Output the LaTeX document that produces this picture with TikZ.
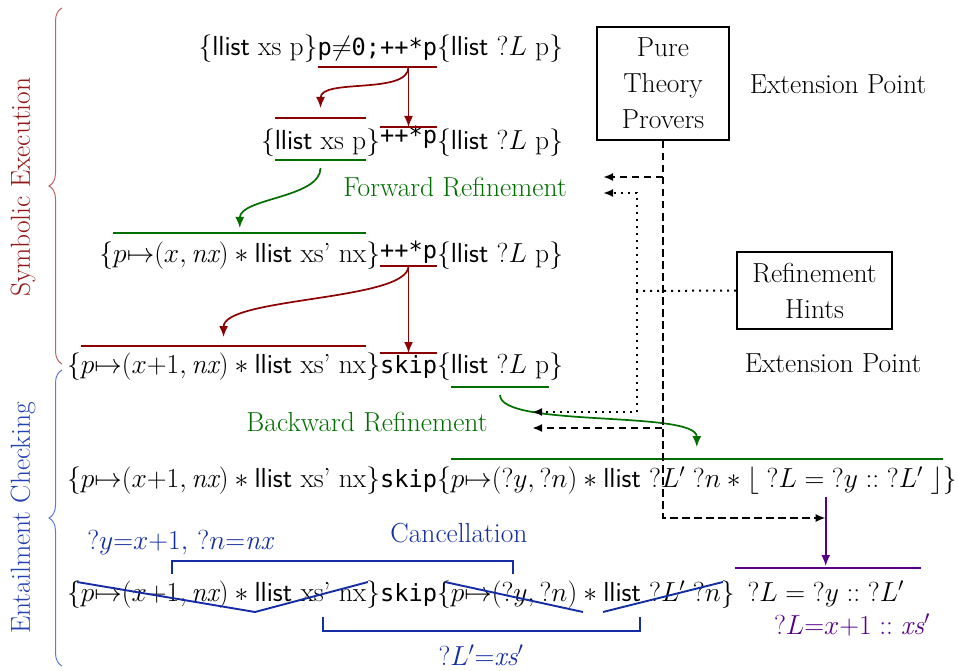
\documentclass[tikz,border=0pt]{standalone}
\usepackage{fix-cm}
\usepackage{fontspec}
\setmonofont{DejaVu Sans Mono}[Scale=0.86]
\usetikzlibrary{arrows.meta,decorations.pathreplacing}

\definecolor{symred}{RGB}{139,0,0}
\definecolor{symredlabel}{RGB}{145,25,25}
\definecolor{symredbrace}{RGB}{185,100,100}
\definecolor{refgreen}{RGB}{0,110,0}
\definecolor{entblue}{RGB}{20,45,165}
\definecolor{entbluelabel}{RGB}{35,65,175}
\definecolor{entbluebrace}{RGB}{100,120,210}
\definecolor{unifpurple}{RGB}{85,0,135}

\newcommand\lst{\textsf{llist}}

\begin{document}
\begin{tikzpicture}[x=1pt,y=-1pt,
  font=\fontsize{27.5}{33}\selectfont,
  seg/.style={inner sep=0pt,outer sep=0pt},
  segL/.style={seg,anchor=base east},
  segR/.style={seg,anchor=base west},
  barline/.style={line width=1.9pt},
  flow/.style={line width=1.7pt,-{Latex[length=11pt,width=9pt]}},
  probe/.style={line width=2pt,dash pattern=on 7.5pt off 4.5pt,-{Latex[length=10pt,width=8pt]}},
  hint/.style={line width=2pt,dash pattern=on 2pt off 5pt,-{Latex[length=10pt,width=8pt]}},
  plainhint/.style={line width=2pt,dash pattern=on 2pt off 5pt},
  toolbox/.style={draw,line width=2pt,align=center,inner sep=0pt,font=\fontsize{27.5}{36}\selectfont},
  strike/.style={entblue,line width=1.9pt},
  phasebrace/.style={decorate,decoration={brace,amplitude=13pt},line width=1pt},
]
\useasboundingbox (0,0) rectangle (958,671);

% ---------- row 1 ----------
\node[segL] (c1) at (437,56) {\texttt{p}$\neq$\texttt{0;++*p}};
\node[segL] (b1) at (c1.base west) {$\}$};
\node[segL] (p1) at (b1.base west) {\lst\ xs p};
\node[segL] (a1) at (p1.base west) {$\{$};
\node[segR] (d1) at (c1.base east) {$\{$};
\node[segR] (q1) at (d1.base east) {\lst\ ${?}L$ p};
\node[segR] (e1) at (q1.base east) {$\}$};

% ---------- row 2 ----------
\node[segL] (c2) at (437,150) {\raisebox{6pt}{\texttt{++*p}}};
\node[segL] (b2) at (c2.base west) {$\}$};
\node[segL] (p2) at (b2.base west) {\lst\ xs p};
\node[segL] (a2) at (p2.base west) {$\{$};
\node[segR] (d2) at (c2.base east) {$\{$};
\node[segR] (q2) at (d2.base east) {\lst\ ${?}L$ p};
\node[segR] (e2) at (q2.base east) {$\}$};

% ---------- row 3 ----------
\node[segL] (c3) at (437,262) {\raisebox{4pt}{\texttt{++*p}}};
\node[segL] (b3) at (c3.base west) {$\}$};
\node[segL] (p3) at (b3.base west) {$p{\mapsto}(x,\mathit{nx})\ast{}$\lst\ xs’ nx};
\node[segL] (a3) at (p3.base west) {$\{$};
\node[segR] (d3) at (c3.base east) {$\{$};
\node[segR] (q3) at (d3.base east) {\lst\ ${?}L$ p};
\node[segR] (e3) at (q3.base east) {$\}$};

% ---------- row 4 ----------
\node[segL] (c4) at (437,373) {\texttt{skip}};
\node[segL] (b4) at (c4.base west) {$\}$};
\node[segL] (p4) at (b4.base west) {$p{\mapsto}(x{+}1,\mathit{nx})\ast{}$\lst\ xs’ nx};
\node[segL] (a4) at (p4.base west) {$\{$};
\node[segR] (d4) at (c4.base east) {$\{$};
\node[segR] (q4) at (d4.base east) {\lst\ ${?}L$ p};
\node[segR] (e4) at (q4.base east) {$\}$};

% ---------- row 5 ----------
\node[segL] (c5) at (437,487) {\texttt{skip}};
\node[segL] (b5) at (c5.base west) {$\}$};
\node[segL] (p5) at (b5.base west) {$p{\mapsto}(x{+}1,\mathit{nx})\ast{}$\lst\ xs’ nx};
\node[segL] (a5) at (p5.base west) {$\{$};
\node[segR] (d5) at (c5.base east) {$\{$};
\node[segR] (q5) at (d5.base east) {$p{\mapsto}({?}y,{?}n)\ast{}$\lst\ ${?}L'\;{?}n\ast\lfloor\;{?}L={?}y\mathrel{::}{?}L'\;\rfloor$};
\node[segR] (e5) at (q5.base east) {$\}$};

% ---------- row 6 ----------
\node[segL] (c6) at (437,601) {\texttt{skip}};
\node[segL] (b6) at (c6.base west) {$\}$};
\node[segL] (p6) at (b6.base west) {$p{\mapsto}(x{+}1,\mathit{nx})\ast{}$\lst\ xs’ nx};
\node[segL] (a6) at (p6.base west) {$\{$};
\node[segR] (d6) at (c6.base east) {$\{$};
\node[segR] (q6) at (d6.base east) {$p{\mapsto}({?}y,{?}n)\ast{}$\lst\ ${?}L'\;{?}n$};
\node[segR] (e6) at (q6.base east) {$\}$};
\node[segR] (f6) at ([xshift=13pt]e6.base east) {${?}L={?}y\mathrel{::}{?}L'$};

% ---------- labels ----------
\node[text=refgreen] (fwd) at (455,187) {Forward Refinement};
\node[text=refgreen] (bwd) at (367,422) {Backward Refinement};
\node[text=entblue] (canc) at (459,533) {Cancellation};
\node[text=entblue] (unif) at (180,543) {${?}y{=}x{+}1,\,{?}n{=}\mathit{nx}$};
\node[text=entblue] (lxs) at (481,655) {${?}L'{=}\mathit{xs}'$};
\node[text=unifpurple] (lval) at (852,625) {${?}L{=}x{+}1 \mathrel{::} \mathit{xs}'$};
\node (ext1) at (838,84) {Extension Point};
\node (ext2) at (833,363) {Extension Point};
\node[toolbox,minimum width=132pt,minimum height=113pt] (pure) at (663,83.5) {Pure\\Theory\\Provers};
\node[toolbox,minimum width=155pt,minimum height=77pt] (hints) at (814.5,290.5) {Refinement\\Hints};

% ---------- phase braces ----------
\draw[phasebrace,symredbrace] (62,364) -- (62,8);
\node[rotate=90,text=symredlabel] (symlbl) at (23,187) {Symbolic Execution};
\draw[phasebrace,entbluebrace] (62,666) -- (62,370);
\node[rotate=90,text=entbluelabel] (entlbl) at (23,518) {Entailment Checking};

% ---------- symbolic execution steps ----------
\draw[barline,symred] ([yshift=-11pt]c1.base west) -- ([yshift=-11pt]c1.base east);
\coordinate (u1) at ([yshift=-11pt]c1.base);
\draw[barline,symred] ([yshift=32pt]p2.base west) -- ([yshift=32pt]p2.base east);
\draw[barline,symred] ([yshift=23pt]c2.base west) -- ([yshift=23pt]c2.base east);
\coordinate (o2) at ([yshift=23pt]c2.base);
\draw[flow,symred] (u1 -| c2) -- (o2 -| c2);
\draw[flow,symred] (u1 -| c2) .. controls +(0,28) and +(0,-30) .. ([yshift=42pt]p2.base);

\draw[barline,refgreen] ([yshift=-10pt]p2.base west) -- ([yshift=-10pt]p2.base east);
\draw[barline,refgreen] ([yshift=29pt]p3.base west) -- ([yshift=29pt]p3.base east);
\draw[flow,refgreen] ([yshift=-18pt]p2.base) .. controls +(0,30) and +(0,-30) .. ([yshift=34pt]p3.base);

\draw[barline,symred] ([yshift=-4pt]c3.base west) -- ([yshift=-4pt]c3.base east);
\coordinate (u3) at ([yshift=-4pt]c3.base);
\draw[barline,symred] ([yshift=27pt]p4.base west) -- ([yshift=27pt]p4.base east);
\draw[barline,symred] ([yshift=20pt]c4.base west) -- ([yshift=20pt]c4.base east);
\coordinate (o4) at ([yshift=20pt]c4.base);
\draw[flow,symred] (u3 -| c4) -- (o4 -| c4);
\draw[flow,symred] (u3 -| c4) .. controls +(0,35) and +(0,-40) .. ([yshift=36pt]p4.base);

\draw[barline,refgreen] ([yshift=-14pt]q4.base west) -- ([yshift=-14pt]q4.base east);
\draw[barline,refgreen] ([yshift=28pt]q5.base west) -- ([yshift=28pt]q5.base east);
\draw[flow,refgreen] ([yshift=-22pt]q4.base) .. controls +(0,33) and +(0,-37) .. ([yshift=40pt]q5.base);

% ---------- entailment: unification of ?L ----------
\draw[barline,unifpurple] ([xshift=-13pt,yshift=33pt]f6.base west) -- ([xshift=17pt,yshift=33pt]f6.base east);
\coordinate (ptop) at ([yshift=-10pt]q5.base -| f6);
\coordinate (pbot) at ([yshift=35pt]f6.base);
\draw[flow,unifpurple] (ptop) -- (pbot);

% ---------- cancellation marks ----------
\draw[strike] (77,582) -- (255,612) -- (368,582);
\draw[strike] (445,582) -- (583,612);
\draw[strike] (603,612) -- (723,582);
\draw[strike] (172,574) -- (172,561) -- (513,561) -- (513,574);
\draw[strike] (323,617) -- (323,631) -- (640,631) -- (640,617);

% ---------- extension points ----------
\coordinate (fwdA) at (603,177);
\coordinate (fwdB) at (603,193);
\coordinate (bwdB) at (532,412);
\coordinate (bwdA) at (532,428);
\coordinate (hjoin) at (637,291);
\coordinate (plevel) at (0,518);
\coordinate (pturn) at (ptop |- plevel);
\draw[probe] (pure.south) |- (fwdA);
\draw[probe] (pure.south) |- (bwdA);
\draw[probe] (pure.south) |- (pturn);
\draw[plainhint] (hints.west) -- (hjoin);
\draw[hint] (hjoin) |- (fwdB);
\draw[hint] (hjoin) |- (bwdB);
\end{tikzpicture}
\end{document}
